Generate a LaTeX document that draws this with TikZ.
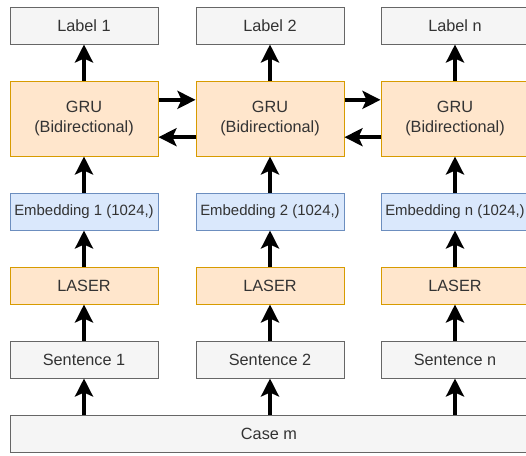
\documentclass[tikz,border=0pt]{standalone}
\usepackage{fontspec}
\setmainfont{Liberation Sans}
\usetikzlibrary{arrows.meta}
\definecolor{txt}{HTML}{333333}
\definecolor{grayfill}{HTML}{F5F5F5}
\definecolor{graydraw}{HTML}{666666}
\definecolor{orfill}{HTML}{FFE6CC}
\definecolor{ordraw}{HTML}{D79B00}
\definecolor{blfill}{HTML}{DAE8FC}
\definecolor{bldraw}{HTML}{6C8EBF}
\begin{document}
\begin{tikzpicture}[x=0.75pt,y=-0.75pt,
  box/.style={draw, line width=0.75pt, minimum width=111pt, inner sep=0pt, text=txt, font=\fontsize{12.2pt}{15pt}\selectfont, align=center},
  graybox/.style={box, fill=grayfill, draw=graydraw, minimum height=27.75pt},
  orbox/.style={box, fill=orfill, draw=ordraw, minimum height=27.75pt},
  grubox/.style={box, fill=orfill, draw=ordraw, minimum height=56.25pt},
  blbox/.style={box, fill=blfill, draw=bldraw, minimum height=27.75pt, font=\fontsize{11.2pt}{13pt}\selectfont},
  arr/.style={line width=2.8pt, -{Stealth[length=13.5pt, width=13.5pt, inset=3pt]}}
]
\useasboundingbox (0,0) rectangle (526,455);
\clip (0,0) rectangle (526,455);
% columns centers: 84, 270, 455
\foreach \c/\x/\n in {1/84/1, 2/270/2, 3/455/n} {
  \node[graybox] (lab\c) at (\x,25.5) {Label \n};
  \node[grubox] (gru\c) at (\x,118.5) {GRU\\(Bidirectional)};
  \node[blbox] (emb\c) at (\x,211.5) {Embedding \n\ (1024,)};
  \node[orbox] (las\c) at (\x,285.5) {LASER};
  \node[graybox] (sen\c) at (\x,359.5) {Sentence \n};
}
\node[graybox, minimum width=388.5pt] (case) at (269,434) {Case m};
\foreach \c/\x in {1/84, 2/270, 3/455} {
  \draw[arr] (case.north -| sen\c) -- (sen\c.south);
  \draw[arr] (sen\c) -- (las\c);
  \draw[arr] (las\c) -- (emb\c);
  \draw[arr] (emb\c) -- (gru\c);
  \draw[arr] (gru\c) -- (lab\c);
}
\foreach \a/\b in {1/2, 2/3} {
  \draw[arr] ([yshift=14pt]gru\a.east) -- ([yshift=14pt]gru\b.west);
  \draw[arr] ([yshift=-14pt]gru\b.west) -- ([yshift=-14pt]gru\a.east);
}
\end{tikzpicture}
\end{document}
